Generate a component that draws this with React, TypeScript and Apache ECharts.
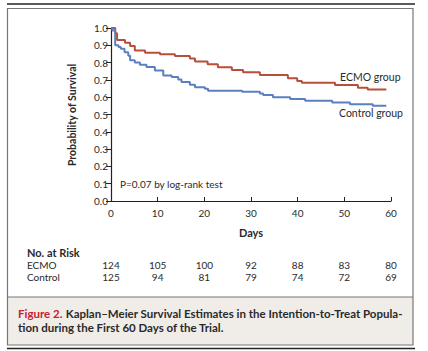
import React, { useEffect, useRef } from "react";
import * as echarts from "echarts";

const ecmoDays = [0, 0.9, 1.3, 3.0, 4.1, 5.1, 7.3, 10.5, 13.7, 16.9, 18.0, 20.7, 22.9, 25.9, 28.3, 31.9, 37.9, 39.9, 40.9, 48.0, 52.9, 55.0, 59.0];
const ecmoSurv = [1.0, 0.97, 0.93, 0.915, 0.896, 0.87, 0.857, 0.848, 0.838, 0.823, 0.807, 0.79, 0.773, 0.757, 0.744, 0.728, 0.709, 0.694, 0.683, 0.67, 0.655, 0.645, 0.645];

const controlDays = [0, 0.3, 0.9, 1.6, 2.1, 2.9, 3.7, 4.1, 5.1, 6.2, 7.6, 9.4, 11.2, 13.0, 14.4, 15.1, 16.9, 18.0, 20.1, 20.8, 28.1, 31.9, 32.6, 34.7, 38.4, 41.6, 47.4, 51.2, 56.1, 59.0];
const controlSurv = [1.0, 0.985, 0.9, 0.89, 0.88, 0.86, 0.84, 0.813, 0.8, 0.788, 0.775, 0.755, 0.726, 0.717, 0.703, 0.688, 0.672, 0.657, 0.649, 0.638, 0.632, 0.622, 0.613, 0.6, 0.59, 0.58, 0.57, 0.559, 0.551, 0.551];

const riskDays = [0, 10, 20, 30, 40, 50, 60];
const ecmoRisk = [124, 105, 100, 92, 88, 83, 80];
const controlRisk = [125, 94, 81, 79, 74, 72, 69];

const FONT = "Lato, 'Open Sans', sans-serif";
const RED = "#b74f3b";
const BLUE = "#5b80bf";
const TXT = "#2a2a2a";

export default function App() {
  const ref = useRef<HTMLDivElement>(null);
  useEffect(() => {
    if (!ref.current) return;
    const chart = echarts.init(ref.current, undefined, { renderer: "svg" });
    chart.setOption({
      animation: false,
      backgroundColor: "#ffffff",
      grid: { left: 111, right: 37, top: 28, bottom: 150 },
      xAxis: {
        type: "value",
        min: 0,
        max: 60,
        interval: 10,
        splitLine: { show: false },
        axisLine: { lineStyle: { color: "#222", width: 1.2 } },
        axisTick: { inside: true, length: 4, lineStyle: { color: "#222" } },
        axisLabel: { color: TXT, fontSize: 10, fontFamily: FONT, margin: 7 },
      },
      yAxis: {
        type: "value",
        min: 0,
        max: 1,
        interval: 0.1,
        splitLine: { show: false },
        axisLine: { show: true, lineStyle: { color: "#222", width: 1.2 } },
        axisTick: { show: true, length: 5, lineStyle: { color: "#222" } },
        axisLabel: {
          color: TXT,
          fontSize: 10,
          fontFamily: FONT,
          margin: 3,
          formatter: (v: number) => v.toFixed(1),
        },
      },
      series: [
        {
          type: "line",
          name: "ECMO",
          step: "end",
          symbol: "none",
          lineStyle: { color: RED, width: 2 },
          data: ecmoDays.map((d, i) => [d, ecmoSurv[i]]),
        },
        {
          type: "line",
          name: "Control",
          step: "end",
          symbol: "none",
          lineStyle: { color: BLUE, width: 2 },
          data: controlDays.map((d, i) => [d, controlSurv[i]]),
        },
      ],
    });

    const px = (d: number) => chart.convertToPixel({ xAxisIndex: 0 }, d) as number;
    const t = (text: string, x: number, y: number, opts: any = {}) => ({
      type: "text",
      x,
      y,
      style: {
        text,
        fill: opts.fill || TXT,
        font: `${opts.weight || "normal"} ${opts.size || 10}px ${FONT}`,
        align: opts.align || "left",
        verticalAlign: "middle",
      },
    });

    const graphics: any[] = [
      { type: "line", shape: { x1: 7, y1: 4, x2: 415, y2: 4 }, style: { stroke: "#222", lineWidth: 1.5 } },
      { type: "rect", shape: { x: 8, y: 297, width: 405, height: 48 }, style: { fill: "#f0ede9" } },
      { type: "line", shape: { x1: 7.5, y1: 297, x2: 413, y2: 297 }, style: { stroke: "#777", lineWidth: 1.2 } },
      { type: "rect", shape: { x: 7.5, y: 8.5, width: 405.5, height: 336.5 }, style: { fill: "none", stroke: "#777", lineWidth: 1.2 } },
      { type: "line", shape: { x1: 7, y1: 348.5, x2: 415, y2: 348.5 }, style: { stroke: "#222", lineWidth: 1.5 } },
      {
        type: "text",
        x: 72,
        y: 115,
        rotation: Math.PI / 2,
        style: {
          text: "Probability of Survival",
          fill: TXT,
          font: `bold 10.5px ${FONT}`,
          align: "center",
          verticalAlign: "middle",
        },
      },
      t("Days", 251, 232, { weight: "bold", align: "center", size: 11 }),
      t("P=0.07 by log-rank test", 120, 184, { size: 10 }),
      t("ECMO group", 340, 77, { size: 10.5 }),
      t("Control group", 339, 113, { size: 10.5 }),
      t("No. at Risk", 27, 252, { weight: "bold", size: 11 }),
      t("ECMO", 27, 265),
      t("Control", 27, 277),
    ];
    riskDays.forEach((d, i) => {
      const x = px(d);
      graphics.push(t(String(ecmoRisk[i]), x, 265, { align: "center" }));
      graphics.push(t(String(controlRisk[i]), x, 277, { align: "center" }));
    });
    graphics.push({
      type: "text",
      x: 18,
      y: 313,
      style: {
        text: "{r|Figure 2.} {b|Kaplan–Meier Survival Estimates in the Intention-to-Treat Popula-}",
        verticalAlign: "middle",
        rich: {
          r: { fill: "#c8202f", font: `bold 11.5px ${FONT}` },
          b: { fill: TXT, font: `bold 11.5px ${FONT}` },
        },
      },
    });
    graphics.push(t("tion during the First 60 Days of the Trial.", 18, 327.5, { weight: "bold", size: 11.5 }));

    chart.setOption({ graphic: graphics });
    return () => chart.dispose();
  }, []);
  return (
    <div
      ref={ref}
      style={{ position: "fixed", left: 0, top: 0, width: 428, height: 351 }}
    />
  );
}
